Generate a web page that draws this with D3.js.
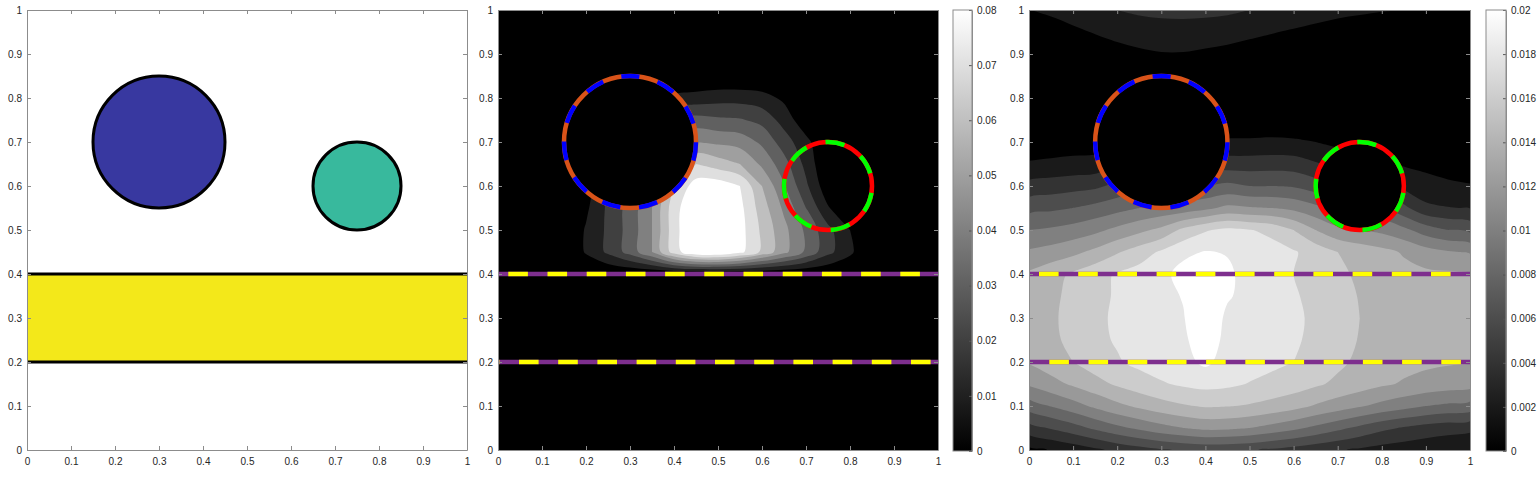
<!DOCTYPE html>
<html><head><meta charset="utf-8">
<script src="https://cdn.jsdelivr.net/npm/d3@7"></script>
<style>
body{margin:0;background:#fff}
text{font-family:"Liberation Sans",Arial,sans-serif;font-size:10px;fill:#262626}
</style>
</head><body><svg id="c" width="1537" height="480"></svg>
<script>
// ---------- data ----------
const axisTicks = [0,0.1,0.2,0.3,0.4,0.5,0.6,0.7,0.8,0.9,1];
const axisTickLabels = ["0","0.1","0.2","0.3","0.4","0.5","0.6","0.7","0.8","0.9","1"];
const cb2Ticks = [0,1,2,3,4,5,6,7,8];               // x 0.01
const cb2TickLabels = ["0","0.01","0.02","0.03","0.04","0.05","0.06","0.07","0.08"];
const cb3Ticks = [0,2,4,6,8,10,12,14,16,18,20];      // x 0.001
const cb3TickLabels = ["0","0.002","0.004","0.006","0.008","0.01","0.012","0.014","0.016","0.018","0.02"];
const levels2 = [1,2,3,4,5,6,7,8];                   // x 0.01
const levels3 = [2,4,6,8,10,12,14,16,18,20];         // x 0.001
const circleCx = [0.3, 0.75];
const circleCy = [0.7, 0.6];
const circleR  = [0.15, 0.1];
const stripY   = [0.2, 0.4];
const gridX = [0,0.05,0.1,0.15,0.2,0.25,0.3,0.35,0.4,0.45,0.5,0.55,0.6,0.65,0.7,0.75,0.8,0.85,0.9,0.95,1];
const gridY = [1,0.95,0.9,0.85,0.8,0.75,0.7,0.65,0.6,0.55,0.5,0.45,0.4,0.35,0.3,0.25,0.2,0.15,0.1,0.05,0];
// field of panel 2 (units of 0.01), rows top (y=1) to bottom (y=0)
const field2 = [
[0,0,0,0,0,0,0,0,0,0,0,0,0,0,0,0,0,0,0,0,0],
[0,0,0,0,0,0,0,0,0,0,0,0,0,0,0,0,0,0,0,0,0],
[0,0,0,0,0,0,0,0,0,0,0,0,0,0,0,0,0,0,0,0,0],
[0,0,0,0,0,0,0,0,0,0,0,0,0,0,0,0,0,0,0,0,0],
[0,0,0,0,0,0,0,0,1.2,1.4,1.6,1.6,1.4,0.8,0,0,0,0,0,0,0],
[0,0,0,0,0,0,0,0,3.2,3.4,3.2,3.1,2.7,1.6,0.3,0,0,0,0,0,0],
[0,0,0,0,0,0,0,0,4.5,5.0,4.8,4.6,3.8,2.5,1.3,0,0,0,0,0,0],
[0,0,0,0,0,0,0,0,6.0,7.0,6.5,6.0,4.8,3.4,1.7,0,0,0,0,0,0],
[0,0,0,0,0.3,2.0,3.0,4.5,7.0,8.5,8.6,8.0,6.0,4.1,2.2,0.3,0,0,0,0,0],
[0,0,0,0,0.8,2.2,3.4,5.0,7.6,9.0,9.0,8.3,6.5,4.8,3.0,1.1,0,0,0,0,0],
[0,0,0,0,1.1,2.2,3.4,5.0,7.6,9.2,9.3,8.4,6.8,5.3,3.8,2.3,1.0,0,0,0,0],
[0,0,0,0,1.1,2.2,3.4,5.0,7.5,9.0,9.2,8.3,6.8,5.3,3.8,2.3,1.2,0,0,0,0],
[0,0,0,0,0,0,0,0,0,0,0,0,0,0,0,0,0,0,0,0,0],
[0,0,0,0,0,0,0,0,0,0,0,0,0,0,0,0,0,0,0,0,0],
[0,0,0,0,0,0,0,0,0,0,0,0,0,0,0,0,0,0,0,0,0],
[0,0,0,0,0,0,0,0,0,0,0,0,0,0,0,0,0,0,0,0,0],
[0,0,0,0,0,0,0,0,0,0,0,0,0,0,0,0,0,0,0,0,0],
[0,0,0,0,0,0,0,0,0,0,0,0,0,0,0,0,0,0,0,0,0],
[0,0,0,0,0,0,0,0,0,0,0,0,0,0,0,0,0,0,0,0,0],
[0,0,0,0,0,0,0,0,0,0,0,0,0,0,0,0,0,0,0,0,0],
[0,0,0,0,0,0,0,0,0,0,0,0,0,0,0,0,0,0,0,0,0]
];
// field of panel 3 (units of 0.001), rows top (y=1) to bottom (y=0)
const field3 = [
[2.0,2.3,2.7,3.1,4.0,4.4,4.6,4.7,4.6,4.4,4.0,3.6,3.2,2.8,2.5,2.3,2.1,1.9,1.6,1.3,1.0],
[1.0,1.3,1.7,2.1,2.5,2.8,3.0,3.0,2.9,2.7,2.4,2.1,1.8,1.5,1.2,1.0,0.8,0.7,0.6,0.5,0.5],
[0.5,0.6,0.8,1.1,1.4,1.7,1.9,1.9,1.7,1.5,1.2,1.0,0.8,0.6,0.5,0.4,0.3,0.3,0.3,0.3,0.3],
[0.3,0.3,0.4,0.5,0.6,0.7,0.8,0.8,0.7,0.6,0.5,0.4,0.3,0.3,0.3,0.2,0.2,0.2,0.2,0.2,0.2],
[0.2,0.2,0.2,0.3,0.3,0.3,0.3,0.3,0.3,0.3,0.3,0.3,0.2,0.2,0.2,0.2,0.2,0.2,0.2,0.2,0.2],
[0.3,0.3,0.3,0.3,0.3,0.3,0.3,0.3,0.3,0.4,0.5,0.5,0.4,0.3,0.3,0.3,0.3,0.3,0.3,0.3,0.3],
[0.8,0.9,1.0,1.1,1.5,1.8,2.0,2.0,2.0,2.3,2.3,2.4,2.3,2.0,1.5,1.2,1.0,0.8,0.6,0.5,0.5],
[2.2,2.4,2.6,2.7,4.0,5.0,5.5,5.5,5.3,5.0,5.0,5.1,5.0,4.2,3.5,3.0,2.6,1.8,1.6,1.3,1.2],
[4.7,5.0,5.3,5.6,6.5,7.5,8.0,8.0,8.0,8.5,8.0,8.0,7.8,7.0,6.0,5.5,5.0,3.5,2.6,2.3,2.1],
[7.3,7.6,8.0,8.6,9.3,10.0,10.5,10.8,11.5,12.5,12.2,12.0,11.5,10.5,9.5,9.0,8.5,6.5,4.5,4.1,3.9],
[10.0,10.3,10.8,11.5,12.5,13.5,14.5,16.5,17.8,18.5,18.1,17.5,16.0,14.0,12.5,12.0,11.5,10.5,9.0,8.0,7.5],
[12.3,12.8,13.5,14.5,15.8,17.0,18.3,19.6,20.1,19.9,19.3,18.8,18.2,17.2,16.0,15.2,14.6,13.8,12.8,12.2,11.8],
[14.3,15.3,16.3,17.3,18.2,18.8,19.5,20.6,21.3,20.3,19.4,18.7,18.0,17.3,16.5,15.6,15.0,14.6,14.4,14.3,14.2],
[14.4,15.5,16.6,17.5,18.2,18.9,19.5,20.1,21.5,20.2,19.4,18.8,18.2,17.5,16.7,15.9,15.2,14.7,14.5,14.3,14.2],
[14.5,15.6,16.8,17.6,18.3,19.0,19.6,19.9,21.5,19.6,19.3,18.8,18.4,17.6,16.8,16.0,15.3,14.8,14.5,14.3,14.2],
[14.4,15.5,16.6,17.5,18.2,18.9,19.4,19.7,21.0,19.5,19.2,18.7,18.3,17.5,16.7,15.9,15.2,14.7,14.5,14.3,14.2],
[14.2,15.1,16.0,17.0,17.8,18.5,19.0,19.4,20.4,19.2,18.9,18.4,18.0,17.2,16.4,15.6,15.0,14.6,14.4,14.2,14.1],
[12.3,13.3,14.3,15.3,16.3,17.1,17.8,18.3,18.6,18.4,17.9,17.5,17.0,16.3,15.6,15.0,14.3,13.8,13.3,13.0,12.8],
[9.0,10.1,11.2,12.4,13.5,14.4,15.2,15.8,16.2,16.1,15.8,15.3,14.7,13.8,13.0,12.2,11.4,10.7,10.0,9.6,9.3],
[5.2,6.2,7.2,8.4,9.5,10.4,11.3,12.0,12.5,12.4,12.0,11.3,10.5,9.5,8.5,7.5,6.5,5.8,5.2,4.8,4.5],
[1.5,2.1,2.8,3.6,4.5,5.2,5.8,6.2,6.5,6.4,6.2,5.7,5.2,4.7,4.2,3.7,3.2,2.9,2.6,2.4,2.2]
];

// ---------- drawing ----------
const svg = d3.select("#c");
const defs = svg.append("defs");
const AX = "#8c8c8c";

function makePanel(id, x0, x1, y0, y1) {
  const xs = d3.scaleLinear().domain([0,1]).range([x0,x1]);
  const ys = d3.scaleLinear().domain([0,1]).range([y1,y0]);
  defs.append("clipPath").attr("id", id).append("rect")
    .attr("x", x0).attr("y", y0).attr("width", x1-x0).attr("height", y1-y0);
  const g = svg.append("g");
  const plot = g.append("g").attr("clip-path", `url(#${id})`);
  return {id, xs, ys, g, plot, x0, x1, y0, y1};
}

function styleAxis(sel) {
  sel.selectAll("path,line").attr("stroke", AX).attr("stroke-width", 1).attr("fill","none");
  sel.selectAll("text").attr("fill", "#262626").style("font-size","10px")
     .style("font-family","'Liberation Sans',Arial,sans-serif");
}

function drawAxes(P) {
  const fmt = (d) => axisTickLabels[axisTicks.indexOf(d)];
  const b = P.g.append("g").attr("transform", `translate(0,${P.y1})`)
    .call(d3.axisBottom(P.xs).tickValues(axisTicks).tickFormat(fmt).tickSizeInner(-4).tickSizeOuter(0).tickPadding(8));
  const l = P.g.append("g").attr("transform", `translate(${P.x0},0)`)
    .call(d3.axisLeft(P.ys).tickValues(axisTicks).tickFormat(fmt).tickSizeInner(-4).tickSizeOuter(0).tickPadding(5));
  const t = P.g.append("g").attr("transform", `translate(0,${P.y0})`)
    .call(d3.axisTop(P.xs).tickValues(axisTicks).tickFormat("").tickSizeInner(-4).tickSizeOuter(0));
  const r = P.g.append("g").attr("transform", `translate(${P.x1},0)`)
    .call(d3.axisRight(P.ys).tickValues(axisTicks).tickFormat("").tickSizeInner(-4).tickSizeOuter(0));
  [b,l,t,r].forEach(styleAxis);
}

const gray = (t) => { const c = Math.round(255*Math.max(0,Math.min(1,t))); return `rgb(${c},${c},${c})`; };

function drawField(P, field, levels, vmax) {
  const n = gridX.length, m = gridY.length;
  const values = field.flat();
  const cs = d3.contours().size([n, m]).thresholds(levels)(values);
  const toPx = (p) => {
    const gx = gridX[0] + (p[0] - 0.5) * (gridX[n-1] - gridX[0]) / (n - 1);
    const gy = gridY[0] + (p[1] - 0.5) * (gridY[m-1] - gridY[0]) / (m - 1);
    return [P.xs(gx), P.ys(gy)];
  };
  const ringLine = d3.line().curve(d3.curveCatmullRomClosed.alpha(0.5));
  const pathOf = (mp) => mp.coordinates.map(poly =>
      poly.map(ring => ringLine(ring.slice(0, -1).map(toPx))).join("")).join("");
  P.plot.append("rect").attr("x", P.x0).attr("y", P.y0)
    .attr("width", P.x1-P.x0).attr("height", P.y1-P.y0).attr("fill", "#000");
  P.plot.append("g").selectAll("path").data(cs).join("path")
    .attr("d", pathOf).attr("fill-rule", "evenodd")
    .attr("fill", d => gray(d.value / vmax)).attr("stroke", "none");
}

function mask(P, i) {
  P.plot.append("ellipse")
    .attr("cx", P.xs(circleCx[i])).attr("cy", P.ys(circleCy[i]))
    .attr("rx", P.xs(circleR[i]) - P.xs(0)).attr("ry", P.ys(0) - P.ys(circleR[i]))
    .attr("fill", "#000");
}

function dashedLine(P, yv, firstDash) {
  const y = P.ys(yv), L = 19.6;
  P.plot.append("line").attr("x1", P.x0).attr("x2", P.x1).attr("y1", y).attr("y2", y)
    .attr("stroke", "#7E2F8E").attr("stroke-width", 4.5);
  P.plot.append("line").attr("x1", P.x0).attr("x2", P.x1).attr("y1", y).attr("y2", y)
    .attr("stroke", "#FFFF00").attr("stroke-width", 4.5)
    .attr("stroke-dasharray", `${L} ${L}`).attr("stroke-dashoffset", 2*L - firstDash);
}

function ring(P, i, baseColor, dashColor, nPer, offset) {
  const cx = P.xs(circleCx[i]), cy = P.ys(circleCy[i]);
  const rx = P.xs(circleR[i]) - P.xs(0), ry = P.ys(0) - P.ys(circleR[i]);
  const d = `M${cx},${cy-ry} A${rx},${ry} 0 1 1 ${cx},${cy+ry} A${rx},${ry} 0 1 1 ${cx},${cy-ry}`;
  const C = Math.PI * (rx + ry);
  const L = C / (2 * nPer);
  P.plot.append("path").attr("d", d).attr("fill", "none")
    .attr("stroke", baseColor).attr("stroke-width", 4.5);
  P.plot.append("path").attr("d", d).attr("fill", "none")
    .attr("stroke", dashColor).attr("stroke-width", 4.5)
    .attr("stroke-dasharray", `${L} ${L}`).attr("stroke-dashoffset", offset === "center" ? L/2 : offset);
}

function colorbar(id, x0, x1, y0, y1, vmax, ticks, labels) {
  const grad = defs.append("linearGradient").attr("id", id)
    .attr("x1", 0).attr("y1", 1).attr("x2", 0).attr("y2", 0);
  grad.append("stop").attr("offset", 0).attr("stop-color", "#000");
  grad.append("stop").attr("offset", 1).attr("stop-color", "#fff");
  svg.append("rect").attr("x", x0).attr("y", y0).attr("width", x1-x0).attr("height", y1-y0)
    .attr("fill", `url(#${id})`);
  const s = d3.scaleLinear().domain([0, vmax]).range([y1, y0]);
  const a = svg.append("g").attr("transform", `translate(${x1},0)`)
    .call(d3.axisRight(s).tickValues(ticks).tickFormat((d) => labels[ticks.indexOf(d)])
      .tickSizeInner(-3).tickSizeOuter(0).tickPadding(5));
  styleAxis(a);
  a.selectAll(".tick line").attr("stroke", "#555");
  svg.append("rect").attr("x", x0).attr("y", y0).attr("width", x1-x0).attr("height", y1-y0)
    .attr("fill", "none").attr("stroke", AX);
}

// ---- panel 1 ----
const P1 = makePanel("clip1", 27, 467, 10, 450);
P1.plot.append("rect").attr("x", P1.x0).attr("y", P1.y0).attr("width", P1.x1-P1.x0).attr("height", P1.y1-P1.y0).attr("fill", "#fff");
P1.plot.append("rect").attr("x", P1.xs(0)).attr("width", P1.xs(1)-P1.xs(0))
  .attr("y", P1.ys(stripY[1])).attr("height", P1.ys(stripY[0]) - P1.ys(stripY[1]))
  .attr("fill", "#F3E81A");
stripY.forEach(yv => {
  P1.plot.append("line").attr("x1", P1.x0).attr("x2", P1.x1).attr("y1", P1.ys(yv)).attr("y2", P1.ys(yv))
    .attr("stroke", "#000").attr("stroke-width", 3);
});
const circleFill = ["#3838A0", "#38B99D"];
circleCx.forEach((c, i) => {
  P1.plot.append("ellipse").attr("cx", P1.xs(c)).attr("cy", P1.ys(circleCy[i]))
    .attr("rx", P1.xs(circleR[i]) - P1.xs(0)).attr("ry", P1.ys(0) - P1.ys(circleR[i]))
    .attr("fill", circleFill[i]).attr("stroke", "#000").attr("stroke-width", 3);
});
drawAxes(P1);

// ---- panel 2 ----
const P2 = makePanel("clip2", 498, 938, 10, 450);
drawField(P2, field2, levels2, 8);
mask(P2, 0);
dashedLine(P2, stripY[1], 10.3);
dashedLine(P2, stripY[0], 21);
ring(P2, 0, "#D95319", "#0000FF", 11, "center");
ring(P2, 1, "#FF0000", "#00FF00", 7, 3);
drawAxes(P2);
colorbar("cg2", 953, 972, 10, 451, 8, cb2Ticks, cb2TickLabels);

// ---- panel 3 ----
const P3 = makePanel("clip3", 1029, 1470, 10, 450);
drawField(P3, field3, levels3, 20);
mask(P3, 0);
mask(P3, 1);
dashedLine(P3, stripY[1], 10);
dashedLine(P3, stripY[0], 20.3);
ring(P3, 0, "#D95319", "#0000FF", 11, "center");
ring(P3, 1, "#FF0000", "#00FF00", 7, 3);
drawAxes(P3);
colorbar("cg3", 1486, 1506, 10, 451, 20, cb3Ticks, cb3TickLabels);
</script>
</body></html>
